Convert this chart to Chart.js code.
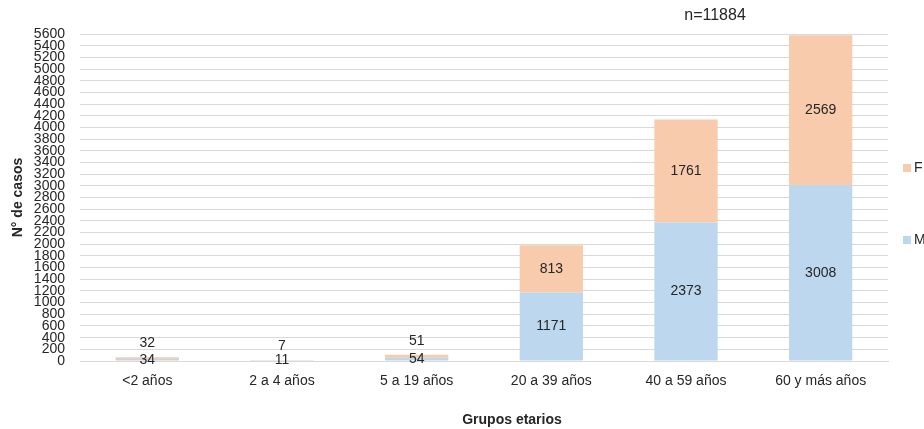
<!DOCTYPE html>
<html>
<head>
<meta charset="utf-8">
<script src="https://cdn.jsdelivr.net/npm/chart.js@4"></script>
<style>
  html, body { margin: 0; padding: 0; background: #ffffff; overflow: hidden; }
  #wrap { width: 924px; height: 429px; position: relative; }
</style>
</head>
<body>
<div id="wrap"><canvas id="c" width="924" height="429"></canvas></div>
<script>
// Casos por grupo etario y sexo
const categories = ['<2 años', '2 a 4 años', '5 a 19 años', '20 a 39 años', '40 a 59 años', '60 y más años'];
const casosM = [34, 11, 54, 1171, 2373, 3008];
const casosF = [32, 7, 51, 813, 1761, 2569];
const yTicks = [];
for (let v = 0; v <= 5600; v += 200) yTicks.push(v);
const totalLabel = 'n=11884';

const colorM = '#BDD7EE';
const colorF = '#F8CBAD';
const textColor = '#262626';
const fontFamily = '"Liberation Sans", Arial, sans-serif';

// Etiquetas de valor dentro / encima de cada segmento
const valueLabels = {
  id: 'valueLabels',
  afterDatasetsDraw(chart) {
    const ctx = chart.ctx;
    ctx.save();
    ctx.font = '14px ' + fontFamily;
    ctx.fillStyle = textColor;
    ctx.textAlign = 'center';
    ctx.textBaseline = 'middle';
    chart.data.datasets.forEach((ds, di) => {
      const meta = chart.getDatasetMeta(di);
      meta.data.forEach((bar, i) => {
        const top = bar.y, base = bar.base;
        let y = (top + base) / 2;
        if (ds.label === 'F' && Math.abs(base - top) < 20) y = top - 14;
        ctx.fillText(String(ds.data[i]), bar.x, y);
      });
    });
    ctx.restore();
  }
};

// Leyenda lateral, título del eje X y total de casos
const extras = {
  id: 'extras',
  afterDraw(chart) {
    const ctx = chart.ctx;
    ctx.save();
    // leyenda
    ctx.font = '14px ' + fontFamily;
    ctx.textBaseline = 'middle';
    ctx.textAlign = 'left';
    const items = [['F', colorF, 168], ['M', colorM, 240]];
    items.forEach(([txt, col, y]) => {
      ctx.fillStyle = col;
      ctx.fillRect(903, y - 4, 8, 8);
      ctx.fillStyle = textColor;
      ctx.fillText(txt, 914, y);
    });
    // título eje X
    ctx.font = 'bold 14px ' + fontFamily;
    ctx.textAlign = 'center';
    ctx.fillText('Grupos etarios', 512, 420);
    // total
    ctx.font = '16px ' + fontFamily;
    ctx.fillText(totalLabel, 715, 16);
    ctx.restore();
  }
};

new Chart(document.getElementById('c'), {
  type: 'bar',
  data: {
    labels: categories,
    datasets: [
      { label: 'M', data: casosM, backgroundColor: colorM, borderWidth: 0 },
      { label: 'F', data: casosF, backgroundColor: colorF, borderWidth: 0 }
    ]
  },
  options: {
    responsive: false,
    animation: false,
    layout: { padding: { left: 0, right: 36, top: 34, bottom: 0 } },
    plugins: {
      legend: { display: false },
      tooltip: { enabled: false }
    },
    datasets: { bar: { categoryPercentage: 1, barPercentage: 0.47 } },
    scales: {
      x: {
        stacked: true,
        grid: { display: false, drawTicks: false },
        border: { display: true, color: '#D9D9D9' },
        ticks: { color: textColor, font: { family: fontFamily, size: 14 }, padding: 12, maxRotation: 0 },
        afterFit(scale) { scale.height = 68; }
      },
      y: {
        stacked: true,
        min: 0,
        max: 5600,
        afterBuildTicks(scale) { scale.ticks = yTicks.map(v => ({ value: v })); },
        grid: { color: '#D9D9D9', drawTicks: false },
        border: { display: false },
        ticks: {
          autoSkip: false,
          color: textColor,
          font: { family: fontFamily, size: 14 },
          padding: 15,
          callback: (v) => String(v)
        },
        title: {
          display: true,
          text: 'N° de casos',
          color: textColor,
          font: { family: fontFamily, size: 14, weight: 'bold' },
          padding: { top: 10, bottom: 0 }
        },
        afterFit(scale) { scale.width = 80; }
      }
    }
  },
  plugins: [valueLabels, extras]
});
</script>
</body>
</html>
